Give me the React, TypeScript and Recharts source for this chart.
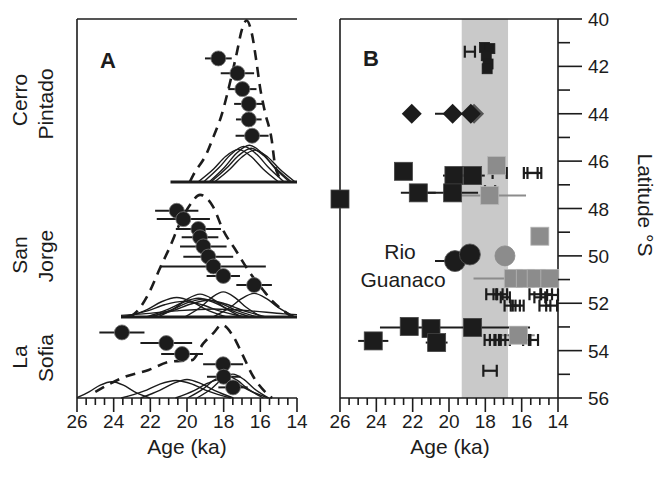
import React from "react";
import { ComposedChart, XAxis, YAxis, Line, Scatter, ErrorBar, ReferenceArea } from "recharts";

const W = 661;
const H = 493;
const FONT = '"Liberation Sans", Arial, Helvetica, sans-serif';
const INK = "#1c1c1c";
const GREY = "#8c8c8c";
const BAND = "#c9c9c9";

// axes
const AGE_TICKS = [14, 14.5, 15, 15.5, 16, 16.5, 17, 17.5, 18, 18.5, 19, 19.5, 20, 20.5, 21, 21.5, 22, 22.5, 23, 23.5, 24, 24.5, 25, 25.5, 26];
const LAT_TICKS = [40, 41, 42, 43, 44, 45, 46, 47, 48, 49, 50, 51, 52, 53, 54, 55, 56];
const LGM_BAND = [19.3, 16.75];

// ---- panel A: ages (ka), error (1 sigma) and stacked plotting height
const CP_DOTS = [
  { age: 18.29, v: 89.6, err: 0.73 },
  { age: 17.25, v: 85.7, err: 0.91 },
  { age: 16.98, v: 81.5, err: 0.77 },
  { age: 16.63, v: 77.6, err: 0.8 },
  { age: 16.63, v: 73.5, err: 0.7 },
  { age: 16.45, v: 69.2, err: 0.9 },
];
const SJ_DOTS = [
  { age: 20.56, v: 49.4, err: 1.18 },
  { age: 20.2, v: 47.2, err: 1.45 },
  { age: 19.38, v: 44.6, err: 1.23 },
  { age: 19.29, v: 42.4, err: 1.0 },
  { age: 19.11, v: 40.0, err: 1.27 },
  { age: 18.84, v: 37.3, err: 1.36 },
  { age: 18.56, v: 34.7, err: 2.86 },
  { age: 18.02, v: 32.2, err: 0.91 },
  { age: 16.34, v: 29.8, err: 0.97 },
];
const LS_DOTS = [
  { age: 23.55, v: 17.3, err: 1.23 },
  { age: 21.13, v: 14.5, err: 1.41 },
  { age: 20.27, v: 11.6, err: 1.14 },
  { age: 18.03, v: 8.9, err: 1.09 },
  { age: 18.0, v: 5.6, err: 0.91 },
  { age: 17.49, v: 2.8, err: 0.8 },
];

// probability curves: [age, height above site baseline]
const CP_BASE = 57.0;
const CP_SPAN = [20.9, 14.0];
const CP_CURVES = [
  [[19.4, 0], [18.55, 3.4], [17.9, 6.7], [17.2, 8.6], [16.5, 6.7], [15.85, 3.4], [15.0, 0]],
  [[19.1, 0], [18.25, 3.8], [17.6, 7.3], [16.9, 9.4], [16.2, 7.3], [15.55, 3.8], [14.7, 0]],
  [[18.8, 0], [17.95, 3.9], [17.3, 7.6], [16.6, 9.7], [15.9, 7.6], [15.25, 3.9], [14.4, 0]],
  [[18.7, 0], [17.85, 3.6], [17.2, 6.9], [16.5, 8.9], [15.8, 6.9], [15.15, 3.6], [14.3, 0]],
  [[18.5, 0], [17.65, 3.4], [17.0, 6.6], [16.3, 8.4], [15.6, 6.6], [14.95, 3.4], [14.1, 0]],
];
const CP_SUM = [
  [19.85, 0], [19.66, 1.8], [18.92, 7.6], [18.56, 11.9], [18.11, 17.7], [17.75, 24.3], [17.29, 33.9],
  [17.01, 40.1], [16.75, 42.6], [16.47, 39.3], [16.2, 31.3], [16.02, 25.1], [15.75, 18.5],
  [15.38, 11.1], [15.2, 4.5], [15.02, 1.8], [14.82, 0],
];

const SJ_BASE = 21.4;
const SJ_SPAN = [23.6, 14.0];
const SJ_CURVES = [
  [[23.27, 0], [22.15, 2.0], [21.39, 4.0], [20.56, 5.1], [19.73, 4.0], [18.97, 2.0], [17.85, 0]],
  [[23.54, 0], [22.16, 1.6], [21.22, 3.2], [20.2, 4.1], [19.18, 3.2], [18.24, 1.6], [16.86, 0]],
  [[22.21, 0], [21.04, 2.0], [20.24, 3.8], [19.38, 4.9], [18.52, 3.8], [17.72, 2.0], [16.55, 0]],
  [[21.59, 0], [20.64, 2.4], [19.99, 4.7], [19.29, 6.0], [18.59, 4.7], [17.94, 2.4], [16.99, 0]],
  [[22.03, 0], [20.82, 1.9], [20.0, 3.7], [19.11, 4.7], [18.22, 3.7], [17.4, 1.9], [16.19, 0]],
  [[21.97, 0], [20.68, 1.8], [19.79, 3.4], [18.84, 4.4], [17.89, 3.4], [17.0, 1.8], [15.71, 0]],
  [[23.6, 0.4], [22.4, 0.8], [20.6, 1.6], [18.56, 2.1], [16.56, 1.6], [14.7, 0.8], [14.0, 0.6]],
  [[20.11, 0], [19.25, 2.6], [18.66, 5.1], [18.02, 6.6], [17.38, 5.1], [16.79, 2.6], [15.93, 0]],
  [[18.57, 0], [17.65, 2.5], [17.02, 4.8], [16.34, 6.2], [15.66, 4.8], [15.03, 2.5], [14.11, 0]],
];
const SJ_SUM = [
  [23.1, 0], [22.74, 1.4], [22.13, 5.8], [21.47, 12.9], [20.93, 18.5], [20.38, 24.8], [19.84, 29.5],
  [19.29, 32.2], [18.58, 29.1], [18.03, 22.9], [17.29, 17.2], [16.74, 12.9], [15.85, 7.1],
  [15.31, 4.0], [14.56, 1.0], [14.27, 0],
];

const LS_BASE = 0;
const LS_CURVES = [
  [[26.0, 0.1], [25.32, 1.7], [24.73, 3.4], [24.1, 4.3], [23.47, 3.4], [22.88, 1.7], [22.03, 0]],
  [[23.59, 0], [22.36, 1.8], [21.51, 3.6], [20.6, 4.6], [19.69, 3.6], [18.84, 1.8], [17.61, 0]],
  [[22.53, 0], [21.49, 2.0], [20.77, 3.8], [20.0, 4.9], [19.23, 3.8], [18.51, 2.0], [17.47, 0]],
  [[20.63, 0], [19.59, 2.0], [18.87, 3.9], [18.1, 5.0], [17.33, 3.9], [16.61, 2.0], [15.57, 0]],
  [[19.97, 0], [19.12, 2.4], [18.53, 4.7], [17.9, 6.0], [17.27, 4.7], [16.68, 2.4], [15.83, 0]],
  [[19.46, 0], [18.65, 2.5], [18.1, 4.9], [17.5, 6.3], [16.9, 4.9], [16.35, 2.5], [15.54, 0]],
];
const LS_SUM = [
  [25.0, 1.6], [23.38, 5.6], [22.09, 7.4], [20.91, 9.6], [19.73, 10.0], [19.11, 14.4], [18.56, 17.1],
  [18.11, 19.3], [17.47, 16.2], [17.01, 11.8], [16.38, 5.6], [15.65, 1.2], [15.36, 0],
];

// ---- panel B: age (ka) vs latitude (°S)
const B_SQUARES = [
  { age: 22.51, lat: 46.43, err: 0 },
  { age: 19.73, lat: 46.61, err: 0.6 },
  { age: 18.7, lat: 46.61, err: 0.67 },
  { age: 21.69, lat: 47.34, err: 0.96 },
  { age: 19.8, lat: 47.34, err: 1.4 },
  { age: 26.0, lat: 47.6, err: 0 },
  { age: 24.17, lat: 53.59, err: 0.83 },
  { age: 22.19, lat: 52.98, err: 0 },
  { age: 20.99, lat: 53.07, err: 0 },
  { age: 20.68, lat: 53.66, err: 0.6 },
  { age: 18.7, lat: 53.02, err: [3.16, 5.1] },
];
const B_GREY_SQUARES = [
  { age: 17.38, lat: 46.19, err: 0 },
  { age: 17.76, lat: 47.45, err: 2.0 },
  { age: 15.0, lat: 49.17, err: 0.15 },
  { age: 16.46, lat: 50.95, err: [2.46, 2.19] },
  { age: 15.8, lat: 50.95, err: 0 },
  { age: 15.2, lat: 50.95, err: 0 },
  { age: 14.45, lat: 50.95, err: 0 },
  { age: 16.18, lat: 53.35, err: 0.9 },
];
const B_SMALL_SQUARES = [
  { age: 18.05, lat: 41.2 },
  { age: 17.75, lat: 41.25 },
  { age: 17.95, lat: 41.55 },
  { age: 17.85, lat: 41.9 },
  { age: 17.9, lat: 42.1 },
];
const B_DIAMONDS = [
  { age: 22.05, lat: 44.0, err: 0 },
  { age: 19.8, lat: 44.0, err: 0.97 },
  { age: 18.8, lat: 44.0, err: 0 },
];
const B_GREY_DIAMONDS = [{ age: 18.62, lat: 44.0 }];
const B_CIRCLES = [
  { age: 19.67, lat: 50.22, err: 1.1 },
  { age: 18.85, lat: 49.94, err: 0 },
];
const B_GREY_CIRCLES = [{ age: 16.92, lat: 50.0 }];
const B_BARS = [
  { age: 18.85, lat: 41.38, err: 0.28 },
  { age: 17.21, lat: 46.5, err: 0.39 },
  { age: 15.5, lat: 46.5, err: 0.38 },
  { age: 15.3, lat: 46.5, err: 0.38 },
  { age: 17.74, lat: 47.27, err: 0.28 },
  { age: 17.65, lat: 51.62, err: 0.3 },
  { age: 17.3, lat: 51.62, err: 0.25 },
  { age: 17.1, lat: 51.62, err: 0.3 },
  { age: 16.9, lat: 51.75, err: 0.25 },
  { age: 16.64, lat: 52.1, err: 0.3 },
  { age: 16.35, lat: 52.1, err: 0.25 },
  { age: 16.19, lat: 52.1, err: 0.3 },
  { age: 15.27, lat: 51.62, err: 0.3 },
  { age: 15.0, lat: 51.75, err: 0.3 },
  { age: 14.63, lat: 51.62, err: 0.3 },
  { age: 14.3, lat: 51.65, err: 0.3 },
  { age: 14.72, lat: 52.1, err: 0.3 },
  { age: 14.35, lat: 52.1, err: 0.3 },
  { age: 17.74, lat: 53.55, err: 0.3 },
  { age: 17.45, lat: 53.55, err: 0.3 },
  { age: 17.2, lat: 53.55, err: 0.3 },
  { age: 16.95, lat: 53.55, err: 0.3 },
  { age: 15.72, lat: 53.55, err: 0.2 },
  { age: 15.35, lat: 53.55, err: 0.25 },
  { age: 17.74, lat: 54.85, err: 0.37 },
];

const toLine = (pts: number[][], base: number) => pts.map(([age, h]) => ({ age, v: base + h }));

const isMajor = (v: number) => Math.abs(v % 2) < 1e-6;

function AgeTickBottom(props: any) {
  const { x, y, payload } = props;
  const major = isMajor(payload.value);
  return (
    <g>
      <line x1={x} x2={x} y1={y} y2={y + (major ? 14 : 7)} stroke={INK} strokeWidth={1.6} />
      {major && (
        <text x={x} y={y + 30} textAnchor="middle" fontSize={19} fill={INK} fontFamily={FONT}>
          {payload.value}
        </text>
      )}
    </g>
  );
}

function AgeTickTop(props: any) {
  const { x, y, payload } = props;
  const major = isMajor(payload.value);
  return <line x1={x} x2={x} y1={y} y2={y + (major ? 20 : 8)} stroke={INK} strokeWidth={1.6} />;
}

function LatTick(props: any) {
  const { x, y, payload } = props;
  const major = isMajor(payload.value);
  return (
    <g>
      <line x1={x} x2={x + (major ? 24 : 12)} y1={y} y2={y} stroke={INK} strokeWidth={1.6} />
      {major && (
        <text x={x + 30} y={y + 7} textAnchor="start" fontSize={19} fill={INK} fontFamily={FONT}>
          {payload.value}
        </text>
      )}
    </g>
  );
}

const circle = (r: number, fill: string, edge: string) => (p: any) =>
  <circle cx={p.cx} cy={p.cy} r={r} fill={fill} stroke={edge} strokeWidth={0.8} />;
const square = (s: number, fill: string, edge: string) => (p: any) =>
  <rect x={p.cx - s / 2} y={p.cy - s / 2} width={s} height={s} fill={fill} stroke={edge} strokeWidth={0.8} />;
const diamond = (r: number, fill: string) => (p: any) =>
  <polygon points={`${p.cx - r},${p.cy} ${p.cx},${p.cy - r} ${p.cx + r},${p.cy} ${p.cx},${p.cy + r}`} fill={fill} />;
const nothing = () => <g />;

const axisLine = { stroke: INK, strokeWidth: 1.6 };

// axes are 1px thick boxes (zero-size axes are not drawn), margins compensate
const ageAxes = () => [
  <XAxis key="xb" xAxisId="age" dataKey="age" type="number" domain={[14, 26]} reversed ticks={AGE_TICKS}
    interval={0} tickSize={0} tickMargin={0} height={1} tick={<AgeTickBottom />} tickLine={false} axisLine={axisLine} />,
  <XAxis key="xt" xAxisId="top" orientation="top" dataKey="age" type="number" domain={[14, 26]} reversed ticks={AGE_TICKS}
    interval={0} tickSize={0} tickMargin={0} height={1} tick={<AgeTickTop />} tickLine={false} axisLine={axisLine} />,
];

function PanelA() {
  const curve = (pts: number[][], base: number, key: string) => (
    <Line key={key} xAxisId="age" yAxisId="v" data={toLine(pts, base)} dataKey="v" type="monotone"
      stroke={INK} strokeWidth={1.4} dot={false} activeDot={false} isAnimationActive={false} />
  );
  const sum = (pts: number[][], base: number, key: string) => (
    <Line key={key} xAxisId="age" yAxisId="v" data={toLine(pts, base)} dataKey="v" type="monotone"
      stroke={INK} strokeWidth={2.6} strokeDasharray="10 7" dot={false} activeDot={false} isAnimationActive={false} />
  );
  const baseline = (span: number[], base: number, key: string) => (
    <Line key={key} xAxisId="age" yAxisId="v" data={span.map((age) => ({ age, v: base }))} dataKey="v"
      stroke={INK} strokeWidth={3} dot={false} activeDot={false} isAnimationActive={false} />
  );
  return (
    <ComposedChart width={W} height={H} margin={{ top: 18, right: W - 297, bottom: H - 399, left: 76 }}>
      {ageAxes()}
      <YAxis yAxisId="v" dataKey="v" type="number" domain={[0, 100]} width={1} tick={false} tickLine={false} axisLine={axisLine} />
      {baseline(CP_SPAN, CP_BASE, "cpb")}
      {baseline(SJ_SPAN, SJ_BASE, "sjb")}
      {CP_CURVES.map((c, i) => curve(c, CP_BASE, "cp" + i))}
      {SJ_CURVES.map((c, i) => curve(c, SJ_BASE, "sj" + i))}
      {LS_CURVES.map((c, i) => curve(c, LS_BASE, "ls" + i))}
      {sum(CP_SUM, CP_BASE, "cps")}
      {sum(SJ_SUM, SJ_BASE, "sjs")}
      {sum(LS_SUM, LS_BASE, "lss")}
      <Scatter xAxisId="age" yAxisId="v" data={[...CP_DOTS, ...SJ_DOTS, ...LS_DOTS]} shape={circle(7.5, INK, "#777")} isAnimationActive={false}>
        <ErrorBar dataKey="err" direction="x" width={0} stroke={INK} strokeWidth={2} />
      </Scatter>
    </ComposedChart>
  );
}

function PanelB() {
  return (
    <ComposedChart width={W} height={H} margin={{ top: 18, right: W - 559, bottom: H - 399, left: 339 }}>
      {ageAxes()}
      <YAxis yAxisId="lat" orientation="right" dataKey="lat" type="number" domain={[40, 56]} reversed ticks={LAT_TICKS}
        interval={0} tickSize={0} tickMargin={0} width={1} tick={<LatTick />} tickLine={false} axisLine={axisLine} />
      <YAxis yAxisId="edge" orientation="left" type="number" domain={[40, 56]} reversed width={1} tick={false} tickLine={false} axisLine={axisLine} />
      <ReferenceArea xAxisId="age" yAxisId="lat" x1={LGM_BAND[0]} x2={LGM_BAND[1]} fill={BAND} fillOpacity={1} stroke="none" />
      <Scatter xAxisId="age" yAxisId="lat" data={B_GREY_SQUARES} shape={square(18, GREY, "#b5b5b5")} isAnimationActive={false}>
        <ErrorBar dataKey="err" direction="x" width={0} stroke={GREY} strokeWidth={2} />
      </Scatter>
      <Scatter xAxisId="age" yAxisId="lat" data={B_GREY_DIAMONDS} shape={diamond(10, "#555")} isAnimationActive={false} />
      <Scatter xAxisId="age" yAxisId="lat" data={B_DIAMONDS} shape={diamond(10, INK)} isAnimationActive={false}>
        <ErrorBar dataKey="err" direction="x" width={0} stroke={INK} strokeWidth={2} />
      </Scatter>
      <Scatter xAxisId="age" yAxisId="lat" data={B_SQUARES} shape={square(18, INK, "#444")} isAnimationActive={false}>
        <ErrorBar dataKey="err" direction="x" width={0} stroke={INK} strokeWidth={2} />
      </Scatter>
      <Scatter xAxisId="age" yAxisId="lat" data={B_SMALL_SQUARES} shape={square(10, INK, INK)} isAnimationActive={false} />
      <Scatter xAxisId="age" yAxisId="lat" data={B_GREY_CIRCLES} shape={circle(10, GREY, GREY)} isAnimationActive={false} />
      <Scatter xAxisId="age" yAxisId="lat" data={B_CIRCLES} shape={circle(10.5, INK, "#555")} isAnimationActive={false}>
        <ErrorBar dataKey="err" direction="x" width={0} stroke={INK} strokeWidth={2} />
      </Scatter>
      <Scatter xAxisId="age" yAxisId="lat" data={B_BARS} shape={nothing} isAnimationActive={false}>
        <ErrorBar dataKey="err" direction="x" width={6} stroke={INK} strokeWidth={2.2} />
      </Scatter>
    </ComposedChart>
  );
}

function Labels() {
  const t = { fontFamily: FONT, fill: INK };
  const vert = (x: number, y: number, s: string, rot: number) => (
    <text key={s} transform={`translate(${x},${y}) rotate(${rot})`} textAnchor="middle" dominantBaseline="central" fontSize={21} {...t}>
      {s}
    </text>
  );
  return (
    <svg width={W} height={H} style={{ position: "absolute", left: 0, top: 0, pointerEvents: "none" }}>
      <text x={108} y={68} textAnchor="middle" fontSize={22} fontWeight="bold" {...t}>A</text>
      <text x={371} y={66} textAnchor="middle" fontSize={22} fontWeight="bold" {...t}>B</text>
      {vert(19, 100, "Cerro", -90)}
      {vert(45, 104, "Pintado", -90)}
      {vert(19, 255, "San", -90)}
      {vert(45, 256, "Jorge", -90)}
      {vert(19, 357, "La", -90)}
      {vert(45, 358, "Sofia", -90)}
      {vert(645, 205, "Latitude °S", 90)}
      <text x={187} y={454} textAnchor="middle" fontSize={21} {...t}>Age (ka)</text>
      <text x={450} y={454} textAnchor="middle" fontSize={21} {...t}>Age (ka)</text>
      <text x={400} y={259} textAnchor="middle" fontSize={21} {...t}>Rio</text>
      <text x={403} y={287} textAnchor="middle" fontSize={21} {...t}>Guanaco</text>
    </svg>
  );
}

export default function App() {
  return (
    <div style={{ position: "absolute", left: 0, top: 0, width: W, height: H, background: "#fff" }}>
      <div style={{ position: "absolute", left: 0, top: 0 }}>
        <PanelA />
      </div>
      <div style={{ position: "absolute", left: 0, top: 0 }}>
        <PanelB />
      </div>
      <Labels />
    </div>
  );
}
